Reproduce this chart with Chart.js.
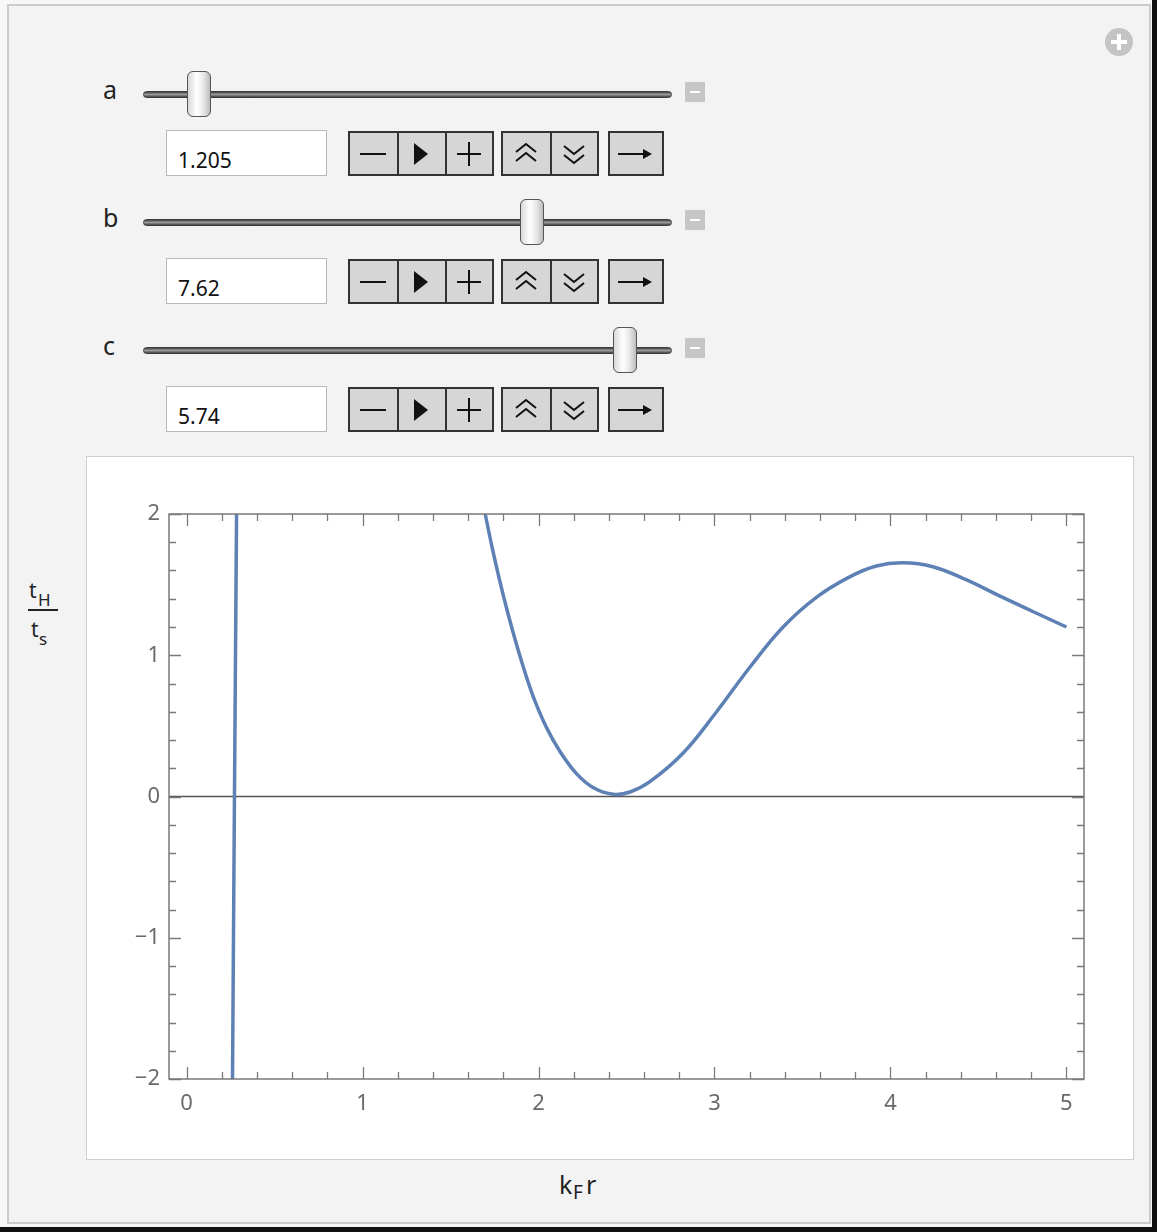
<!DOCTYPE html>
<html>
<head>
<meta charset="utf-8">
<script src="https://cdn.jsdelivr.net/npm/chart.js@4.4.1/dist/chart.umd.min.js"></script>
<style>
  html, body { margin: 0; padding: 0; }
  body { width: 1157px; height: 1232px; position: relative; background: #f7f7f7; overflow: hidden;
         font-family: "Noto Sans", "Open Sans", "DejaVu Sans", sans-serif; }
  .abs { position: absolute; }
  #panel { left: 7px; top: 4px; width: 1140px; height: 1216px; background: #f3f3f3; border: 2px solid #cbcbcb; }
  #shadowR { left: 1152px; top: 0; width: 5px; height: 1232px; background: #111; }
  #shadowB { left: 0; top: 1227px; width: 1157px; height: 5px; background: #111; }
  .lbl { font-size: 25px; color: #222; }
  .track { height: 5px; border-radius: 4px; background: linear-gradient(#444, #9a9a9a 50%, #444); border: 1px solid #3a3a3a; }
  .thumb { width: 24px; height: 46px; border-radius: 6px; border: 1.5px solid #555;
           background: linear-gradient(90deg, #d9d9d9, #ffffff 40%, #e8e8e8 70%, #bdbdbd); box-sizing: border-box; }
  .mini { width: 20px; height: 20px; background: #c6c6c6; }
  .mini::after { content: ""; position: absolute; left: 5px; top: 9px; width: 10px; height: 2px; background: #fff; }
  .box { width: 161px; height: 46px; background: #fff; border: 1.5px solid #b8b8b8; box-sizing: border-box;
         font-size: 21px; color: #111; padding-left: 11px; line-height: 58px; }
  .btn { height: 45px; background: #d6d6d6; border: 2px solid #333; box-sizing: border-box; }
  .btn svg { position: absolute; left: 0; top: 0; }
  #plotbg { left: 86px; top: 456px; width: 1046px; height: 702px; background: #fff; border: 1.5px solid #cfcfcf; }
  #chartbox { left: 87px; top: 457px; width: 1046px; height: 702px; }
  .ax { color: #222; }
</style>
</head>
<body>
<div id="panel" class="abs"></div>
<div id="shadowR" class="abs"></div>
<div id="shadowB" class="abs"></div>

<!-- add-button top right -->
<svg class="abs" style="left:1104px;top:27px" width="30" height="30">
  <circle cx="15" cy="15" r="14" fill="#c4c4c4"/>
  <rect x="13" y="7" width="4" height="16" fill="#fff"/>
  <rect x="7" y="13" width="16" height="4" fill="#fff"/>
</svg>

<div id="controls"></div>

<div id="plotbg" class="abs"></div>
<div id="chartbox" class="abs"><canvas id="c"></canvas></div>

<!-- y axis label: tH / ts -->
<div class="abs ax" style="left:29px;top:580px;font-size:21px;line-height:21px;">t</div>
<div class="abs ax" style="left:38px;top:591px;font-size:17px;line-height:17px;">H</div>
<div class="abs" style="left:28px;top:609px;width:30px;height:2px;background:#222;"></div>
<div class="abs ax" style="left:31px;top:619px;font-size:21px;line-height:21px;">t</div>
<div class="abs ax" style="left:39px;top:630px;font-size:17px;line-height:17px;">s</div>

<!-- x axis label: kF r -->
<div class="abs ax" style="left:559px;top:1172px;font-size:25px;line-height:25px;">k</div>
<div class="abs ax" style="left:573px;top:1183px;font-size:19px;line-height:19px;">F</div>
<div class="abs ax" style="left:586px;top:1172px;font-size:25px;line-height:25px;">r</div>

<script>
// ---- control values ----
const paramNames = ["a", "b", "c"];
const paramValues = ["1.205", "7.62", "5.74"];
const thumbCenters = [199, 532, 625];

// ---- chart data ----
const branch1X = [0.261, 0.272, 0.284];
const branch1Y = [-2.0, 0.0, 2.0];

const branch2X = [1.66, 1.697, 1.744, 1.80, 1.858, 1.914, 1.971, 2.047, 2.123, 2.217, 2.312, 2.425, 2.52, 2.633,
                  2.822, 3.012, 3.201, 3.39, 3.579, 3.768, 3.92, 4.071, 4.241, 4.43, 4.62, 4.809, 5.0];
const branch2Y = [2.23, 2.0, 1.72, 1.423, 1.15, 0.915, 0.704, 0.484, 0.317, 0.16, 0.062, 0.016, 0.032, 0.105,
                  0.308, 0.60, 0.915, 1.20, 1.41, 1.555, 1.632, 1.655, 1.627, 1.535, 1.42, 1.31, 1.20];

const xTickValues = [0, 1, 2, 3, 4, 5];
const xTickLabels = ["0", "1", "2", "3", "4", "5"];
const yTickValues = [-2, -1, 0, 1, 2];
const yTickLabels = ["\u22122", "\u22121", "0", "1", "2"];
const xRange = [-0.1, 5.1];
const yRange = [-2, 2];

// ---- build controls ----
const glyphs = {
  minus: '<line x1="10" y1="21" x2="36" y2="21" stroke="#111" stroke-width="2"/>',
  play: '<polygon points="16,10 30,21 16,32" fill="#111"/>',
  plus: '<line x1="11" y1="21" x2="35" y2="21" stroke="#111" stroke-width="2"/><line x1="23" y1="9" x2="23" y2="33" stroke="#111" stroke-width="2"/>',
  up: '<polyline points="13,19 23,11 33,19" fill="none" stroke="#111" stroke-width="2"/><polyline points="13,28 23,20 33,28" fill="none" stroke="#111" stroke-width="2"/>',
  down: '<polyline points="13,13 23,21 33,13" fill="none" stroke="#111" stroke-width="2"/><polyline points="13,22 23,30 33,22" fill="none" stroke="#111" stroke-width="2"/>',
  arrow: '<line x1="8" y1="21" x2="38" y2="21" stroke="#111" stroke-width="2"/><polygon points="33,16 42,21 33,26" fill="#111"/>'
};
function group(left, top, names, cellW) {
  let h = '<div class="abs btn" style="left:' + left + 'px;top:' + top + 'px;width:' + (cellW * names.length + 2) + 'px;">';
  names.forEach((n, i) => {
    if (i > 0) h += '<div class="abs" style="left:' + (i * cellW - 1) + 'px;top:0;width:2px;height:41px;background:#333"></div>';
    h += '<svg style="position:absolute;left:' + (i * cellW) + 'px;top:0" width="' + cellW + '" height="42">' + glyphs[n] + '</svg>';
  });
  return h + '</div>';
}
let html = '';
paramNames.forEach((nm, i) => {
  const dy = i * 128;
  html += '<div class="abs lbl" style="left:103px;top:' + (72 + dy) + 'px;">' + nm + '</div>';
  html += '<div class="abs track" style="left:143px;top:' + (91 + dy) + 'px;width:527px;"></div>';
  html += '<div class="abs thumb" style="left:' + (thumbCenters[i] - 12) + 'px;top:' + (71 + dy) + 'px;"></div>';
  html += '<div class="abs mini" style="left:685px;top:' + (82 + dy) + 'px;"></div>';
  html += '<div class="abs box" style="left:166px;top:' + (130 + dy) + 'px;">' + paramValues[i] + '</div>';
  html += group(348, 131 + dy, ["minus", "play", "plus"], 48);
  html += group(501, 131 + dy, ["up", "down"], 48);
  html += group(608, 131 + dy, ["arrow"], 54);
});
document.getElementById('controls').innerHTML = html;

// ---- frame / ticks plugin ----
const framePlugin = {
  id: 'mmaFrame',
  beforeDatasetsDraw(chart) {
    const { ctx, chartArea: a, scales: { x, y } } = chart;
    ctx.save();
    ctx.strokeStyle = '#555';
    ctx.lineWidth = 1.3;
    const y0 = y.getPixelForValue(0);
    ctx.beginPath(); ctx.moveTo(a.left, y0); ctx.lineTo(a.right, y0); ctx.stroke();
    ctx.restore();
  },
  afterDatasetsDraw(chart) {
    const { ctx, chartArea: a, scales: { x, y } } = chart;
    ctx.save();
    ctx.strokeStyle = '#7a7a7a';
    ctx.lineWidth = 1.5;
    ctx.strokeRect(a.left, a.top, a.right - a.left, a.bottom - a.top);
    const major = 12, minor = 7;
    ctx.lineWidth = 1.3;
    ctx.beginPath();
    for (let i = 0; i <= 25; i++) {
      const v = i * 0.2;
      const isMajor = xTickValues.some(t => Math.abs(t - v) < 1e-6);
      const len = isMajor ? major : minor;
      const px = Math.round(x.getPixelForValue(v)) + 0.5;
      ctx.moveTo(px, a.bottom); ctx.lineTo(px, a.bottom - len);
      ctx.moveTo(px, a.top); ctx.lineTo(px, a.top + len);
    }
    for (let i = -10; i <= 10; i++) {
      const v = i * 0.2;
      const isMajor = yTickValues.some(t => Math.abs(t - v) < 1e-6);
      const len = isMajor ? major : minor;
      const py = Math.round(y.getPixelForValue(v)) + 0.5;
      ctx.moveTo(a.left, py); ctx.lineTo(a.left + len, py);
      ctx.moveTo(a.right, py); ctx.lineTo(a.right - len, py);
    }
    ctx.stroke();
    ctx.restore();
  }
};

const curveStyle = {
  borderColor: '#5e81b5', borderWidth: 3.5, pointRadius: 0, fill: false,
  tension: 0.4, clip: 0, borderCapStyle: 'butt', borderJoinStyle: 'round'
};

new Chart(document.getElementById('c'), {
  type: 'line',
  data: {
    datasets: [
      Object.assign({ data: branch1X.map((v, i) => ({ x: v, y: branch1Y[i] })) }, curveStyle),
      Object.assign({ data: branch2X.map((v, i) => ({ x: v, y: branch2Y[i] })) }, curveStyle)
    ]
  },
  options: {
    responsive: true, maintainAspectRatio: false, animation: false,
    layout: { padding: { left: 0, top: 57, right: 49, bottom: 0 } },
    plugins: { legend: { display: false }, tooltip: { enabled: false } },
    scales: {
      x: {
        type: 'linear', min: xRange[0], max: xRange[1],
        grid: { display: false, drawTicks: false }, border: { display: false },
        afterBuildTicks: s => { s.ticks = xTickValues.map(v => ({ value: v })); },
        afterFit: s => { s.height = 80; },
        ticks: { padding: 12, color: '#6a6a6a', font: { size: 22, family: '"Noto Sans", "Open Sans", sans-serif' },
                 maxRotation: 0, autoSkip: false,
                 callback: (v, i) => xTickLabels[i] }
      },
      y: {
        type: 'linear', min: yRange[0], max: yRange[1],
        grid: { display: false, drawTicks: false }, border: { display: false },
        afterBuildTicks: s => { s.ticks = yTickValues.map(v => ({ value: v })); },
        afterFit: s => { s.width = 82; },
        ticks: { padding: 9, color: '#6a6a6a', font: { size: 22, family: '"Noto Sans", "Open Sans", sans-serif' },
                 autoSkip: false,
                 callback: (v, i) => yTickLabels[i] }
      }
    }
  },
  plugins: [framePlugin]
});
</script>
</body>
</html>
